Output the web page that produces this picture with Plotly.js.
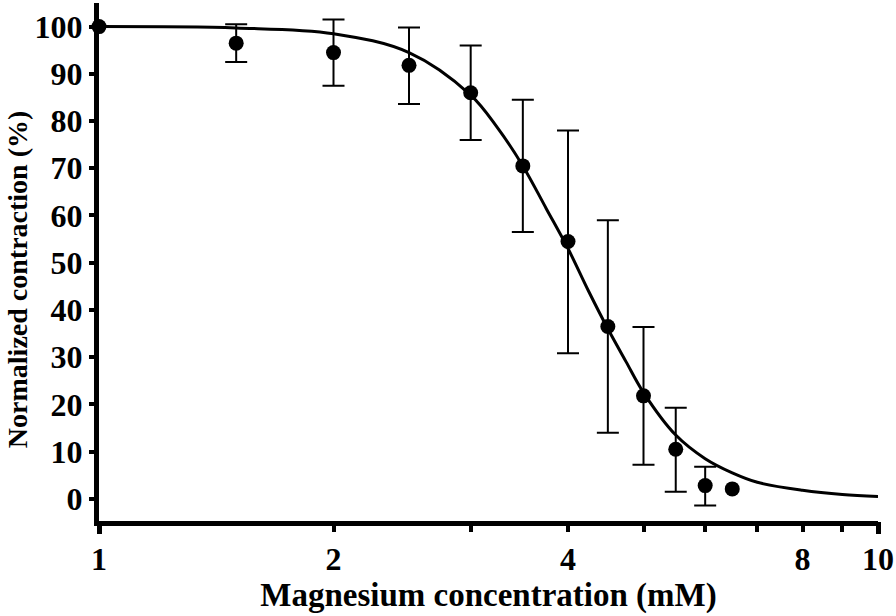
<!DOCTYPE html>
<html>
<head>
<meta charset="utf-8">
<script src="https://cdn.plot.ly/plotly-3.0.1.min.js"></script>
<style>html,body{margin:0;padding:0;background:#fff;}#chart{width:896px;height:616px;}</style>
</head>
<body>
<div id="chart"></div>
<script>
const concentration = [1, 1.5, 2, 2.5, 3, 3.5, 4, 4.5, 5, 5.5, 6, 6.5];
const contraction   = [100, 96.5, 94.5, 91.8, 86, 70.5, 54.5, 36.5, 21.8, 10.5, 2.8, 2.1];
const errUpper      = [null, 4.0, 7.0, 8.0, 10.0, 14.0, 23.5, 22.5, 14.6, 8.8, 4.0, null];
const errLower      = [null, 4.0, 7.0, 8.2, 10.0, 14.0, 23.7, 22.5, 14.6, 9.0, 4.2, null];

// Fitted curve, points
const fitX = [1, 1.5, 2, 2.5, 3, 3.25, 3.5, 3.75, 4, 4.25, 4.5, 4.75, 5, 5.5, 6, 6.5, 7, 8, 9, 10];
const fitY = [100, 99.7, 98.5, 94.5, 85.5, 78.5, 70.5, 61.5, 53, 44, 36, 29, 22.5, 13.5, 8.5, 5.5, 3.5, 1.8, 0.9, 0.5];

const xTickVals = [1, 2, 3, 4, 5, 6, 7, 8, 9, 10];
const xTickText = ['1', '2', '', '4', '', '', '', '8', '', '10'];
const yTickVals = [0, 10, 20, 30, 40, 50, 60, 70, 80, 90, 100];
const decadeTicks = [1, 10];

const font = 'Liberation Serif, Times New Roman, serif';

// split points with and without error bars
const idxErr = concentration.map((_, i) => i).filter(i => errUpper[i] !== null);
const idxNoErr = concentration.map((_, i) => i).filter(i => errUpper[i] === null);
const pick = (arr, idx) => idx.map(i => arr[i]);

const traces = [
  {
    x: fitX, y: fitY, type: 'scatter', mode: 'lines',
    line: {color: '#000', width: 3, shape: 'spline', smoothing: 1},
    hoverinfo: 'skip', cliponaxis: false
  },
  {
    x: pick(concentration, idxErr), y: pick(contraction, idxErr), type: 'scatter', mode: 'markers',
    marker: {color: '#000', size: 15},
    error_y: {type: 'data', symmetric: false, array: pick(errUpper, idxErr), arrayminus: pick(errLower, idxErr),
              color: '#000', thickness: 2, width: 11},
    cliponaxis: false
  },
  {
    x: pick(concentration, idxNoErr), y: pick(contraction, idxNoErr), type: 'scatter', mode: 'markers',
    marker: {color: '#000', size: 15},
    cliponaxis: false
  },
  {
    x: decadeTicks, y: [null, null], xaxis: 'x2', type: 'scatter', mode: 'markers',
    hoverinfo: 'skip', showlegend: false
  }
];

const layout = {
  width: 896, height: 616,
  margin: {l: 99, r: 18, t: 3, b: 95},
  paper_bgcolor: '#fff', plot_bgcolor: '#fff',
  showlegend: false,
  font: {family: font, color: '#000'},
  xaxis: {
    type: 'log', range: [0, 1],
    tickmode: 'array', tickvals: xTickVals, ticktext: xTickText,
    ticks: 'outside', ticklen: 6, tickwidth: 4, tickcolor: '#000',
    showline: true, linewidth: 5, linecolor: '#000',
    showgrid: false, zeroline: false,
    tickfont: {family: font, size: 32, color: '#000', weight: 'bold'},
    title: {text: 'Magnesium concentration (mM)', font: {family: font, size: 33, color: '#000', weight: 'bold'}, standoff: 6}
  },
  xaxis2: {
    type: 'log', range: [0, 1], overlaying: 'x', side: 'bottom',
    tickmode: 'array', tickvals: decadeTicks, showticklabels: false,
    ticks: 'outside', ticklen: 12, tickwidth: 5, tickcolor: '#000',
    showline: false, showgrid: false, zeroline: false
  },
  yaxis: {
    range: [-4.7, 105],
    tickmode: 'array', tickvals: yTickVals,
    ticks: 'outside', ticklen: 5, tickwidth: 4, tickcolor: '#000',
    showline: true, linewidth: 5, linecolor: '#000',
    showgrid: false, zeroline: false,
    tickfont: {family: font, size: 32, color: '#000', weight: 'bold'}
  },
  annotations: [{
    text: 'Normalized contraction (%)',
    xref: 'paper', yref: 'paper', x: 0, y: 0.465,
    xanchor: 'center', yanchor: 'middle', xshift: -82,
    textangle: -90, showarrow: false,
    font: {family: font, size: 28, color: '#000', weight: 'bold'}
  }]
};

Plotly.newPlot('chart', traces, layout, {displayModeBar: false, staticPlot: true});
</script>
</body>
</html>
